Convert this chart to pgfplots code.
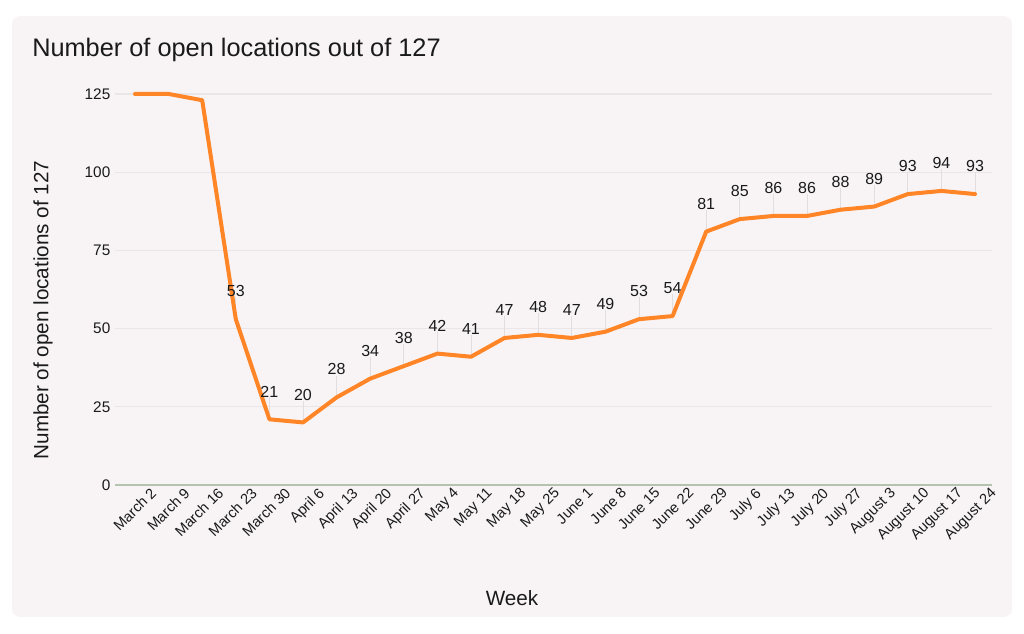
\documentclass[border=0pt]{standalone}
\usepackage{pgfplots}
\pgfplotsset{compat=1.18}
\usepackage{fontspec}
\setmainfont{Liberation Sans}
\definecolor{bgc}{HTML}{F8F4F5}
\definecolor{linec}{HTML}{FF8527}
\definecolor{gridc}{HTML}{EAE5E6}
\definecolor{leadc}{HTML}{E2DDDE}
\definecolor{axc}{HTML}{B4C2B0}
\definecolor{txt}{HTML}{1A1A1A}
\begin{document}
\begin{tikzpicture}[x=0.75pt,y=0.75pt]
\path (0,0) rectangle (1024,634);
\fill[bgc, rounded corners=6pt] (12,17) rectangle (1012,618);
\node[anchor=base west, inner sep=0pt, text=txt, font=\fontsize{19}{23}\selectfont] at (32,577) {Number of open locations out of 127};
\node[rotate=90, text=txt, font=\fontsize{15.5}{18}\selectfont] at (43,324) {Number of open locations of 127};
\node[text=txt, font=\fontsize{15.5}{18}\selectfont] at (512,36) {Week};
\begin{axis}[
  at={(86.25pt,111.75pt)}, anchor=south west,
  scale only axis, width=657.75pt, height=305pt,
  xmin=-0.595, xmax=25.506, ymin=0, ymax=130,
  /pgf/number format/assume math mode=true,
  axis line style={draw=none},
  major tick length=0pt,
  ytick={25,50,75,100,125},
  extra y ticks={0},
  extra y tick style={grid style={draw=axc, line width=1.5pt}},
  ymajorgrids, grid style={draw=gridc, line width=1pt},
  xtick={0,...,25},
  xticklabels={March 2,March 9,March 16,March 23,March 30,April 6,April 13,April 20,April 27,May 4,May 11,May 18,May 25,June 1,June 8,June 15,June 22,June 29,July 6,July 13,July 20,July 27,August 3,August 10,August 17,August 24},
  tick label style={font=\fontsize{11.5}{13}\selectfont, text=txt},
  xticklabel style={rotate=45, anchor=north east, inner sep=0pt, xshift=7pt, yshift=-8.5pt, font=\fontsize{11}{13}\selectfont},
  clip=false,
]
\addplot[draw=none, forget plot, mark=none,
  nodes near coords, point meta=y,
  every node near coord/.append style={anchor=south, inner sep=0pt, yshift=16.5pt, font=\fontsize{12}{14}\selectfont, text=txt},
  error bars/.cd, y dir=plus, y fixed=7, error mark=none,
  error bar style={draw=leadc, line width=0.5pt}]
coordinates {(3,53) (4,21) (5,20) (6,28) (7,34) (8,38) (9,42) (10,41) (11,47) (12,48) (13,47) (14,49) (15,53) (16,54) (17,81) (18,85) (19,86) (20,86) (21,88) (22,89) (23,93) (24,94) (25,93)};
\addplot[linec, line width=3pt, line join=round, line cap=round, mark=none]
coordinates {(0,125) (1,125) (2,123) (3,53) (4,21) (5,20) (6,28) (7,34) (8,38) (9,42) (10,41) (11,47) (12,48) (13,47) (14,49) (15,53) (16,54) (17,81) (18,85) (19,86) (20,86) (21,88) (22,89) (23,93) (24,94) (25,93)};
\end{axis}
\end{tikzpicture}
\end{document}
